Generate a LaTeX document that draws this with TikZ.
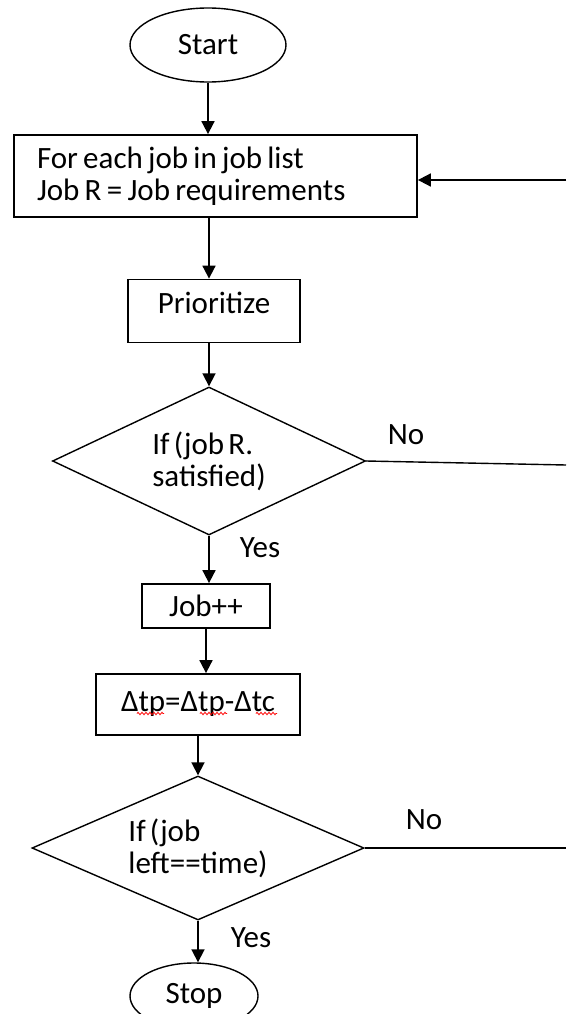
\documentclass[tikz,border=0pt]{standalone}
\usepackage{fontspec}
\setmainfont{Carlito}[WordSpace=0.6]
\usetikzlibrary{shapes.geometric,arrows.meta,decorations.pathmorphing,calc}
\begin{document}
\begin{tikzpicture}[x=1pt,y=-1pt,
  every node/.style={font=\fontsize{31}{32}\selectfont, text=black},
  terminal/.style={draw, line width=1.4pt, ellipse, inner sep=0pt},
  process/.style={draw, line width=1.8pt, rectangle, inner sep=0pt},
  decision/.style={draw, line width=1.4pt, diamond, shape aspect=2.1, inner sep=0pt, align=left},
  arrow/.style={line width=1.8pt, -{Triangle[length=13pt,width=13pt]}},
  link/.style={line width=1.4pt},
  tag/.style={inner sep=0pt},
  spell/.style={draw=red, line width=0.8pt, decorate, decoration={zigzag, segment length=4pt, amplitude=1.2pt}}]
\useasboundingbox (0,0) rectangle (566,1014);

% flowchart blocks
\node[terminal, minimum width=156pt, minimum height=74pt] (start) at (208,45) {Start};
\node[process, minimum width=403pt, minimum height=82pt, text width=357pt, align=left] (init) at (215.5,176)
  {\spaceskip=0.17em For each job in job list\\Job R = Job requirements};
\node[process, minimum width=172pt, minimum height=63pt, text depth=16pt] (prio) at (214,311) {Prioritize};
\node[decision, minimum width=313pt, minimum height=148pt] (sat) at (209,461) {If (job R.\\satisfied)};
\node[process, minimum width=128pt, minimum height=44pt] (inc) at (206,606) {Job++};
\node[process, minimum width=204pt, minimum height=61pt] (upd) at (198,704.5) {Δtp=Δtp-Δtc};
\node[decision, minimum width=332pt, minimum height=144pt] (left) at (198,848) {If (job\\left==time)};
\node[terminal, minimum width=128pt, minimum height=66pt] (stop) at (194,996) {Stop};

% branch labels
\node[tag] (no1) at (406,435) {No};
\node[tag] (yes1) at (260,548) {Yes};
\node[tag] (no2) at (424,820) {No};
\node[tag] (yes2) at (251,938) {Yes};

% loose ends of the loop-back lines
\coordinate (back) at (566,180);
\coordinate (exit1) at (566,465);
\coordinate (exit2) at (566,848);

% connectors
\draw[arrow] (start.south) -- (init.north -| start.south);
\draw[arrow] (back) -- (init.east |- back);
\draw[arrow] (init.south -| sat.north) -- (prio.north -| sat.north);
\draw[arrow] (prio.south -| sat.north) -- (sat.north);
\draw[link] (sat.east) -- (exit1);
\draw[arrow] (sat.south) -- (inc.north -| sat.south);
\draw[arrow] (inc.south) -- (upd.north -| inc.south);
\draw[arrow] (upd.south) -- (left.north);
\draw[link] (left.east) -- (exit2);
\draw[arrow] (left.south) -- (stop.north -| left.south);

% spell-check squiggles under the formula
\draw[spell] ($(upd.center)+(-61,9)$) -- ($(upd.center)+(-34,9)$);
\draw[spell] ($(upd.center)+(2,9)$) -- ($(upd.center)+(29,9)$);
\draw[spell] ($(upd.center)+(58,9)$) -- ($(upd.center)+(79,9)$);
\end{tikzpicture}
\end{document}
